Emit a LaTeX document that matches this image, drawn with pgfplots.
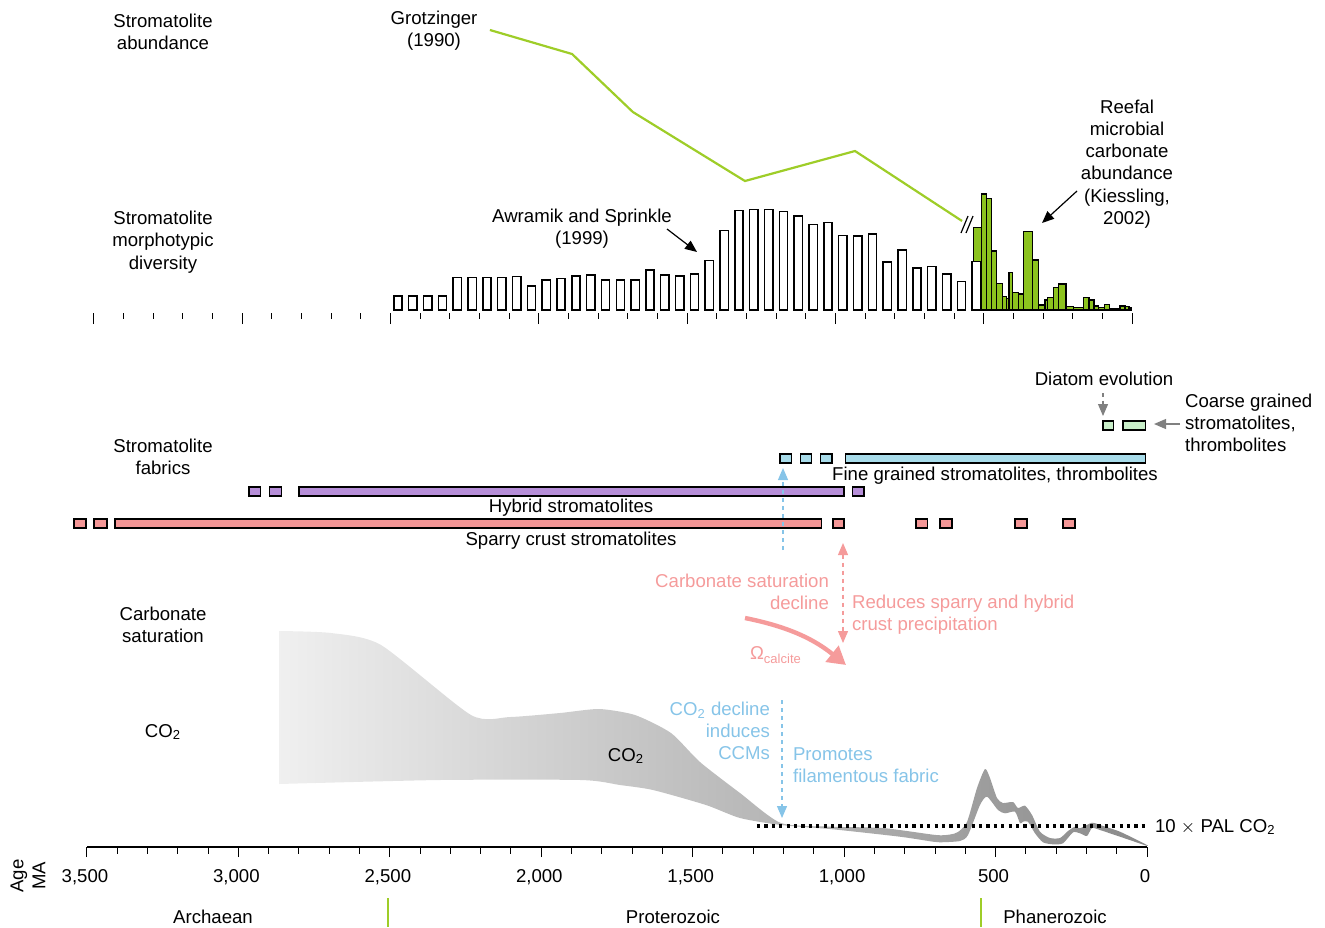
\documentclass[border=0pt]{standalone}
\usepackage{pgfplots}
\pgfplotsset{compat=1.18}
\usepackage{fontspec}
\setmainfont{Liberation Sans}
\usetikzlibrary{arrows.meta}
\definecolor{sparry}{RGB}{244,150,150}
\definecolor{hybrid}{RGB}{182,142,216}
\definecolor{fine}{RGB}{168,220,234}
\definecolor{coarse}{RGB}{200,238,200}
\definecolor{gbar}{RGB}{140,195,30}
\definecolor{gline}{RGB}{158,205,40}
\definecolor{pinktxt}{RGB}{245,155,155}
\definecolor{bluetxt}{RGB}{134,196,232}
\newcommand{\fabricbox}[5]{\addplot[fill=#1, draw=black, line width=0.75pt] coordinates {(#2,#4) (#3,#4) (#3,#5) (#2,#5)} -- cycle;}
\begin{document}
\begin{tikzpicture}[font=\fontsize{9.3}{11.1}\selectfont]
% ---------------- top: stromatolite diversity / abundance ----------------
\begin{axis}[at={(47pt,-155pt)}, anchor=south west, scale only axis,
  width=519pt, height=155pt,
  xmin=0, xmax=3500, x dir=reverse, ymin=0, ymax=310, clip=false,
  axis x line=bottom, axis y line=none, x axis line style={draw=none},
  xtick={0,500,...,3500}, minor xtick={0,100,...,3500}, xticklabels={},
  tick align=outside, major tick length=5.6pt, minor tick length=2.8pt,
  tick style={black, line width=0.5pt, yshift=-1.5pt}]
% Kiessling (2002) reefal microbial carbonate abundance
\addplot[ybar interval, fill=gbar, draw=black, line width=0.65pt] coordinates {
(535.1,82.3) (506.8,116) (489.9,111.7) (473.1,59) (456.2,26.7) (437.3,13.3)
(422.5,11.7) (414.7,37.3) (402.3,17.3) (383.4,16) (366.5,78.3) (334.8,50)
(315.9,5) (293.4,10) (285.6,12.7) (265.4,22.7) (248.5,26) (222.5,3.3)
(197.9,2.7) (164.2,12.7) (145.0,10) (128.1,4) (113.6,2.7) (93.4,5.7)
(76.5,1.7) (40.5,4) (23.6,3.3) (10.1,2) (1,0)};
% Awramik and Sprinkle (1999) morphotypic diversity
\addplot[ybar, bar width=28, bar shift=0, fill=white, draw=black, line width=0.75pt] coordinates {
(2475,14) (2425,14) (2375,14) (2325,14) (2275,32.7) (2225,32.7) (2175,32.7)
(2125,32.7) (2075,33.3) (2025,24) (1975,30) (1925,31.3) (1875,34) (1825,35)
(1775,30) (1725,30) (1675,30) (1625,40) (1575,35) (1525,34) (1475,36)
(1425,49.7) (1375,79.7) (1325,99.3) (1275,100.7) (1225,100.7) (1175,98.3)
(1125,94) (1075,85.3) (1025,87.3) (975,74.7) (925,74) (875,76) (825,48)
(775,60) (725,42) (675,43.3) (625,36) (575,28.7) (525,48.3)};
\addplot[black, line width=1pt] coordinates {(542,0) (0,0)};
% Grotzinger (1990) abundance
\addplot[gline, line width=1.1pt] coordinates {
(2165,280) (1888,256) (1683,198) (1305,129) (934,159) (573,89)};
\end{axis}
% ---------------- bottom: fabrics, CO2, time axis ----------------
\begin{axis}[at={(43.5pt,-423.5pt)}, anchor=south west, scale only axis,
  width=530pt, height=423.5pt,
  xmin=0, xmax=3500, x dir=reverse, ymin=0, ymax=847, clip=false,
  axis x line=bottom, axis y line=none, x axis line style={-, line width=1.25pt},
  xtick={0,500,...,3500}, minor xtick={0,100,...,3500},
  tick align=outside, major tick length=5pt, minor tick length=3.3pt,
  tick style={black, line width=0.5pt},
  /pgf/number format/assume math mode=true,
  xticklabel style={font=\fontsize{9.3}{11}\selectfont, yshift=-2.5pt, xshift=-1pt}]
% CO2 band
\addplot[draw=none, left color=black!6, right color=black!46, smooth, tension=0.4] coordinates {
(2866.0,216) (2694.3,214) (2529.2,202) (2232.1,132) (2103.3,130) (1938.2,134)
(1809.4,138) (1690.6,132) (1571.7,114) (1476.0,85) (1343.9,54) (1208.5,24)
(1036.8,20.3) (871.7,19) (696.7,12) (650.5,12.5) (624.1,15) (594.3,25)
(561.3,59) (534.9,78) (518.4,69) (495.3,49) (475.5,44) (442.5,45)
(425.9,39) (402.8,41.3) (379.7,32) (353.3,15.3) (320.3,9) (287.3,9)
(260.8,16) (237.7,20.3) (221.2,18.7) (181.6,24.3) (155.2,22) (89.2,15.3)
(3.3,2.5) (3.3,1.5) (89.2,10.3) (155.2,17) (181.6,19) (198.1,11)
(221.2,13.7) (244.3,14.7) (277.4,3.7) (310.4,2.7) (343.4,4.7) (369.8,13.7)
(392.9,25.3) (409.4,25.3) (419.3,23.7) (435.8,35.3) (468.9,33.7) (492.0,37)
(528.3,50.3) (551.4,42) (591.0,12) (617.5,6) (683.5,4.7) (706.6,5.3)
(815.6,10.3) (1036.8,17.7) (1208.5,22) (1343.9,29) (1456.1,42) (1631.1,57)
(1740.1,62) (1868.9,67) (2337.7,67) (2866.0,63)};
% 10 x PAL CO2
\addplot[black, line width=1.6pt, dash pattern=on 1.6pt off 2.1pt] coordinates {(1288,21) (0,21)};
% stromatolite fabrics
\fabricbox{sparry}{3543}{3503}{319}{328}
\fabricbox{sparry}{3477}{3434}{319}{328}
\fabricbox{sparry}{3408}{1075}{319}{328}
\fabricbox{sparry}{1037}{1000}{319}{328}
\fabricbox{sparry}{762}{725}{319}{328}
\fabricbox{sparry}{683}{644}{319}{328}
\fabricbox{sparry}{436}{396}{319}{328}
\fabricbox{sparry}{277}{238}{319}{328}
\fabricbox{hybrid}{2965}{2927}{351}{360}
\fabricbox{hybrid}{2897}{2858}{351}{360}
\fabricbox{hybrid}{2800}{1000}{351}{360}
\fabricbox{hybrid}{972}{935}{351}{360}
\fabricbox{fine}{1211}{1173}{384}{393}
\fabricbox{fine}{1144}{1107}{384}{393}
\fabricbox{fine}{1078}{1040}{384}{393}
\fabricbox{fine}{995}{5}{384}{393}
\fabricbox{coarse}{146}{110}{417}{426}
\fabricbox{coarse}{79}{5}{417}{426}
\end{axis}
% ---------------- annotations (pixel frame) ----------------
\begin{scope}[x=0.5pt, y=-0.5pt]
\node[align=center] at (163,32) {Stromatolite\\abundance};
\node[align=center] at (163,242) {Stromatolite\\morphotypic\\diversity};
\node[align=center] at (163,457) {Stromatolite\\fabrics};
\node[align=center] at (163,625) {Carbonate\\saturation};
\node at (163,732) {CO\textsubscript{2}};
\node[align=center] at (434,31) {Grotzinger\\(1990)};
\node[align=center] at (582,229) {Awramik and Sprinkle\\(1999)};
\node[align=center] at (1127,164) {Reefal\\microbial\\carbonate\\abundance\\(Kiessling,\\2002)};
\node at (1104,379) {Diatom evolution};
\node[align=left, anchor=west] at (1178,423) {Coarse grained\\stromatolites,\\thrombolites};
\node at (995,476) {Fine grained stromatolites, thrombolites};
\node at (571,508) {Hybrid stromatolites};
\node at (571,541) {Sparry crust stromatolites};
\node[align=right, anchor=east, text=pinktxt] at (836,592) {Carbonate saturation\\decline};
\node[align=left, anchor=west, text=pinktxt] at (845,615) {Reduces sparry and hybrid\\crust precipitation};
\node[text=pinktxt, anchor=west] at (743,655) {Ω\textsubscript{calcite}};
\node at (626,756) {CO\textsubscript{2}};
\node[align=right, anchor=east, text=bluetxt] at (777,731) {CO\textsubscript{2} decline\\induces\\CCMs};
\node[align=left, anchor=west, text=bluetxt] at (786,765) {Promotes\\filamentous fabric};
\node[anchor=west] at (1148,827) {10 $\times$ PAL CO\textsubscript{2}};
\node[rotate=90, align=center] at (28,876) {Age\\MA};
\node at (213,917) {Archaean};
\node at (673,917) {Proterozoic};
\node at (1055,917) {Phanerozoic};
\draw[gline, line width=0.8pt] (388,898) -- (388,927);
\draw[gline, line width=0.8pt] (981,898) -- (981,927);
% arrows
\draw[black, line width=0.6pt, -{Triangle[length=6pt, width=5pt]}] (667,229) -- (697,252);
\draw[black, line width=0.6pt, -{Triangle[length=6pt, width=5pt]}] (1077,191) -- (1042,223);
\draw[black, line width=0.6pt] (961,233) -- (968,216);
\draw[black, line width=0.6pt] (966,233) -- (973,216);
\draw[black!50, line width=0.6pt, dash pattern=on 2pt off 1.8pt, -{Triangle[length=6pt, width=5pt]}] (1103,393) -- (1103,416);
\draw[black!50, line width=0.6pt, -{Triangle[length=6pt, width=5pt]}] (1180,424) -- (1154,424);
\draw[bluetxt, line width=0.6pt, dash pattern=on 2.2pt off 1.8pt, -{Triangle[length=6pt, width=5pt]}] (783,550) -- (783,468);
\draw[bluetxt, line width=0.6pt, dash pattern=on 2.2pt off 1.8pt, -{Triangle[length=6pt, width=5pt]}] (782,700) -- (782,818);
\draw[pinktxt, line width=0.6pt, dash pattern=on 2.2pt off 1.8pt, {Triangle[length=6pt, width=5pt]}-{Triangle[length=6pt, width=5pt]}] (843,543) -- (843,643);
\draw[pinktxt, line width=2.2pt, -{Triangle[length=9pt, width=10pt]}] (745,618) .. controls (790,627) and (815,640) .. (846,665);
\end{scope}
\pgfresetboundingbox
\path[use as bounding box] (0pt,0pt) rectangle (662.5pt,-463.5pt);
\end{tikzpicture}
\end{document}
